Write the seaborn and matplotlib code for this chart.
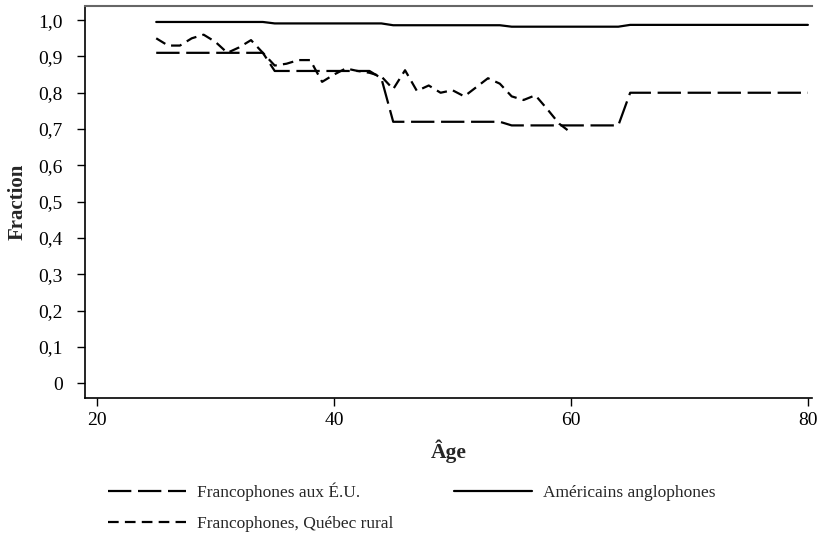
import matplotlib
matplotlib.use("Agg")
import matplotlib.pyplot as plt
import seaborn as sns

# Américains anglophones (solid)
ages_us = [25, 34, 35, 44, 45, 54, 55, 64, 65, 80]
frac_us = [0.995, 0.995, 0.991, 0.991, 0.986, 0.986, 0.982, 0.982, 0.987, 0.987]

# Francophones aux É.U. (long dash)
ages_eu = [25, 34, 35, 43, 44, 45, 54, 55, 64, 65, 80]
frac_eu = [0.91, 0.91, 0.86, 0.86, 0.84, 0.72, 0.72, 0.71, 0.71, 0.80, 0.80]

# Francophones, Québec rural (short dash)
ages_qc = list(range(25, 61))
frac_qc = [0.95, 0.93, 0.93, 0.95, 0.96, 0.94, 0.91, 0.925, 0.945, 0.91,
           0.875, 0.88, 0.89, 0.89, 0.83, 0.85, 0.867, 0.86, 0.855, 0.845,
           0.81, 0.862, 0.805, 0.82, 0.80, 0.807, 0.79, 0.815, 0.84, 0.825,
           0.79, 0.78, 0.793, 0.755, 0.715, 0.69]

yticks = [0, 0.1, 0.2, 0.3, 0.4, 0.5, 0.6, 0.7, 0.8, 0.9, 1.0]
ytick_labels = ["0", "0,1", "0,2", "0,3", "0,4", "0,5", "0,6", "0,7", "0,8", "0,9", "1,0"]
xticks = [20, 40, 60, 80]

sns.set_style("white")
plt.rcParams["font.family"] = ["Liberation Serif", "DejaVu Serif"]

fig = plt.figure(figsize=(8.19, 5.36), dpi=100)
ax = fig.add_axes([0.1038, 0.2575, 0.8877, 0.7313])

lw = 1.6
sns.lineplot(x=ages_eu, y=frac_eu, ax=ax, color="black", lw=lw,
             label="Francophones aux É.U.")
sns.lineplot(x=ages_qc, y=frac_qc, ax=ax, color="black", lw=lw,
             label="Francophones, Québec rural")
sns.lineplot(x=ages_us, y=frac_us, ax=ax, color="black", lw=lw,
             label="Américains anglophones")
lines = ax.get_lines()
lines[0].set_dashes((10.5, 3.0))
lines[1].set_dashes((4.8, 2.8))

ax.set_xlim(18.99, 80.35)
ax.set_ylim(-0.041, 1.039)
ax.set_xticks(xticks)
ax.set_yticks(yticks)
ax.set_yticklabels(ytick_labels)
ax.tick_params(axis="both", direction="out", length=6, width=1, labelsize=14,
               colors="black", left=True, bottom=True)
ax.tick_params(axis="y", pad=10)
ax.tick_params(axis="x", pad=4)

for side in ["left", "bottom"]:
    ax.spines[side].set_color("black")
    ax.spines[side].set_linewidth(1.2)
ax.spines["top"].set_color("#666666")
ax.spines["top"].set_linewidth(1.5)
ax.spines["right"].set_visible(False)

ax.set_xlabel("Âge", fontsize=15.5, fontweight="bold", labelpad=8)
ax.set_ylabel("Fraction", fontsize=15, fontweight="bold", labelpad=8)

handles, labels = ax.get_legend_handles_labels()
ax.get_legend().remove()
fig.legend(handles, labels, ncol=2, loc="upper left",
           bbox_to_anchor=(0.132, 0.099), frameon=False, fontsize=12.5,
           handlelength=4.5, handletextpad=0.63, columnspacing=3.5,
           labelspacing=0.85, borderaxespad=0, borderpad=0)

fig.savefig("out.png", dpi=100)
